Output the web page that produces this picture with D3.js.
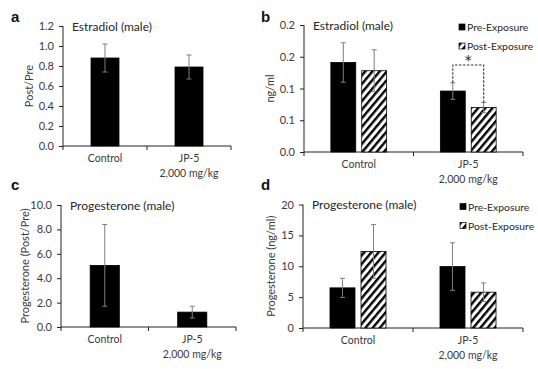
<!DOCTYPE html>
<html>
<head>
<meta charset="utf-8">
<script src="https://cdn.jsdelivr.net/npm/d3@7"></script>
<style>
  body { margin: 0; background: #fff; }
  svg { display: block; font-family: Lato, "Open Sans", sans-serif; }
</style>
</head>
<body>
<div id="content"></div>
<script>
// categories shared by all four panels
const categories = [["Control"], ["JP-5", "2,000 mg/kg"]];
const seriesNames = ["Pre-Exposure", "Post-Exposure"];

// a: estradiol ratio
const estRatio = [0.88, 0.79];
const estRatioErr = [0.14, 0.12];
const estRatioTicks = [0, 0.2, 0.4, 0.6, 0.8, 1.0, 1.2];

// b: estradiol ng/ml
const estPre = [0.141, 0.096];
const estPreErr = [0.031, 0.013];
const estPost = [0.128, 0.070];
const estPostErr = [0.033, 0.008];
const estTicks = [0, 0.05, 0.1, 0.15, 0.2];
const estTickLabels = ["0.0", "0.1", "0.1", "0.2", "0.2"];

// c: progesterone ratio
const progRatio = [5.05, 1.22];
const progRatioErr = [3.35, 0.48];
const progRatioTicks = [0, 2, 4, 6, 8, 10];

// d: progesterone ng/ml
const progPre = [6.5, 9.95];
const progPreErr = [1.55, 3.85];
const progPost = [12.4, 5.8];
const progPostErr = [4.35, 1.5];
const progTicks = [0, 5, 10, 15, 20];

const W = 538, H = 369;
const svg = d3
  .select("#content")
  .append("svg")
  .attr("width", W)
  .attr("height", H);

// hatch pattern for post-exposure bars
const defs = svg.append("defs");
const pat = defs
  .append("pattern")
  .attr("id", "hatch")
  .attr("patternUnits", "userSpaceOnUse")
  .attr("width", 5.5)
  .attr("height", 5.5)
  .attr("patternTransform", "rotate(40)");
pat.append("rect").attr("width", 5.5).attr("height", 5.5).attr("fill", "#fff");
pat
  .append("rect")
  .attr("x", 0)
  .attr("width", 2.4)
  .attr("height", 5.5)
  .attr("fill", "#000");

const textCol = "#3a3a3a";

function panel(opt) {
  const g = svg.append("g");
  const y = d3.scaleLinear().domain(opt.domain).range([opt.bottom, opt.top]);
  const x0 = d3
    .scaleBand()
    .domain(d3.range(categories.length))
    .range([opt.left, opt.right]);

  // y axis
  const yAxis = g
    .append("g")
    .attr("transform", `translate(${opt.left},0)`)
    .call(
      d3
        .axisLeft(y)
        .tickValues(opt.ticks)
        .tickSize(4)
        .tickPadding(5)
        .tickFormat((d, i) => (opt.tickLabels ? opt.tickLabels[i] : opt.fmt(d))),
    );
  yAxis.select(".domain").attr("stroke", "#222").attr("d", `M0,${opt.bottom}V${opt.top}`);
  yAxis.selectAll(".tick line").attr("stroke", "#222");
  yAxis
    .selectAll(".tick text")
    .attr("fill", textCol)
    .style("font-size", "11px");
  yAxis.attr("font-family", null);

  // x axis line with ticks at band edges
  const xa = g.append("g");
  xa.append("line")
    .attr("x1", opt.left)
    .attr("x2", opt.right)
    .attr("y1", opt.bottom)
    .attr("y2", opt.bottom)
    .attr("stroke", "#222");
  const edges = [opt.left, ...d3.range(1, categories.length).map((i) => x0(i)), opt.right];
  xa.selectAll(".xt")
    .data(edges)
    .enter()
    .append("line")
    .attr("x1", (d) => d)
    .attr("x2", (d) => d)
    .attr("y1", opt.bottom)
    .attr("y2", opt.bottom + 4)
    .attr("stroke", "#222");

  // category labels
  categories.forEach((lines, i) => {
    lines.forEach((t, j) => {
      g.append("text")
        .attr("x", x0(i) + x0.bandwidth() / 2)
        .attr("y", opt.bottom + 16 + j * 15)
        .attr("text-anchor", "middle")
        .attr("fill", textCol)
        .style("font-size", "10.5px")
        .text(t);
    });
  });

  // bars
  const x1 = d3
    .scaleBand()
    .domain(d3.range(opt.series.length))
    .range([0, x0.bandwidth()])
    .paddingInner(opt.series.length > 1 ? 0.194 : 0)
    .paddingOuter(opt.series.length > 1 ? 0.87 : 1);

  opt.series.forEach((s, si) => {
    const bars = s.values.map((v, i) => ({ v, e: s.err[i], i }));
    g.selectAll(null)
      .data(bars)
      .enter()
      .append("rect")
      .attr("x", (d) => x0(d.i) + x1(si))
      .attr("y", (d) => y(d.v))
      .attr("width", x1.bandwidth())
      .attr("height", (d) => y(0) - y(d.v))
      .attr("fill", s.fill)
      .attr("stroke", "#000")
      .attr("stroke-width", 0.8);

    const eb = g
      .selectAll(null)
      .data(bars)
      .enter()
      .append("g")
      .attr("stroke", "#7f7f7f")
      .attr("stroke-width", 1)
      .attr("transform", (d) => `translate(${x0(d.i) + x1(si) + x1.bandwidth() / 2},0)`);
    eb.append("line")
      .attr("y1", (d) => y(d.v + d.e))
      .attr("y2", (d) => y(d.v - d.e));
    eb.append("line")
      .attr("x1", -2.5)
      .attr("x2", 2.5)
      .attr("y1", (d) => y(d.v + d.e))
      .attr("y2", (d) => y(d.v + d.e));
    eb.append("line")
      .attr("x1", -2.5)
      .attr("x2", 2.5)
      .attr("y1", (d) => y(d.v - d.e))
      .attr("y2", (d) => y(d.v - d.e));
  });

  // title inside plot
  g.append("text")
    .attr("x", opt.left + 9)
    .attr("y", opt.top + 4.5)
    .attr("fill", "#262626")
    .style("font-size", "12px")
    .text(opt.title);

  // y label
  g.append("text")
    .attr("transform", `translate(${opt.ylabX},${(opt.top + opt.bottom) / 2}) rotate(-90)`)
    .attr("text-anchor", "middle")
    .attr("fill", textCol)
    .style("font-size", "11px")
    .text(opt.ylab);

  // panel letter
  g.append("text")
    .attr("x", opt.letterX)
    .attr("y", opt.letterY)
    .style("font-family", "'Liberation Sans', Arial, sans-serif")
    .style("font-weight", "bold")
    .style("font-size", "15px")
    .attr("fill", "#111")
    .text(opt.letter);

  // legend
  if (opt.series.length > 1) {
    opt.series.forEach((s, si) => {
      const ly = opt.top + 2 + si * 19;
      g.append("rect")
        .attr("x", opt.legendX)
        .attr("y", ly - 3)
        .attr("width", 6)
        .attr("height", 6)
        .attr("fill", s.fill)
        .attr("stroke", "#000")
        .attr("stroke-width", 0.7);
      g.append("text")
        .attr("x", opt.legendX + 8)
        .attr("y", ly + 4)
        .attr("fill", "#262626")
        .style("font-size", "10.4px")
        .text(seriesNames[si]);
    });
  }
  return { g, x0, x1, y };
}

panel({
  letter: "a", letterX: 11, letterY: 21.5,
  left: 63, right: 231, top: 26, bottom: 146,
  domain: [0, 1.2], ticks: estRatioTicks, fmt: d3.format(".1f"),
  title: "Estradiol (male)", ylab: "Post/Pre", ylabX: 33,
  series: [{ values: estRatio, err: estRatioErr, fill: "#000" }],
});

const pb = panel({
  letter: "b", letterX: 261, letterY: 21.5,
  left: 304, right: 523, top: 25, bottom: 152,
  domain: [0, 0.2], ticks: estTicks, tickLabels: estTickLabels,
  title: "Estradiol (male)", ylab: "ng/ml", ylabX: 274, legendX: 459,
  series: [
    { values: estPre, err: estPreErr, fill: "#000" },
    { values: estPost, err: estPostErr, fill: "url(#hatch)" },
  ],
});

// significance bracket between JP-5 pre and post
{
  const { g, x0, x1, y } = pb;
  const xa = x0(1) + x1(0) + x1.bandwidth() / 2;
  const xb = x0(1) + x1(1) + x1.bandwidth() / 2;
  const yTop = 65;
  const ya = y(estPre[1] + estPreErr[1]);
  const yb = y(estPost[1] + estPostErr[1]);
  g.append("path")
    .attr("d", `M${xa},${ya}V${yTop}H${xb}V${yb}`)
    .attr("fill", "none")
    .attr("stroke", "#333")
    .attr("stroke-width", 1.1)
    .attr("stroke-dasharray", "2.5,1.5");
  g.append("text")
    .attr("x", (xa + xb) / 2)
    .attr("y", yTop)
    .attr("text-anchor", "middle")
    .style("font-family", "'DejaVu Sans', sans-serif")
    .style("font-size", "14px")
    .attr("fill", "#222")
    .text("*");
}

panel({
  letter: "c", letterX: 11, letterY: 190,
  left: 61, right: 236, top: 205, bottom: 327,
  domain: [0, 10], ticks: progRatioTicks, fmt: d3.format(".1f"),
  title: "Progesterone (male)", ylab: "Progesterone (Post/Pre)", ylabX: 29,
  series: [{ values: progRatio, err: progRatioErr, fill: "#000" }],
});

panel({
  letter: "d", letterX: 261, letterY: 190,
  left: 303, right: 523, top: 204.5, bottom: 328,
  domain: [0, 20], ticks: progTicks, fmt: d3.format("d"),
  title: "Progesterone (male)", ylab: "Progesterone (ng/ml)", ylabX: 275, legendX: 460,
  series: [
    { values: progPre, err: progPreErr, fill: "#000" },
    { values: progPost, err: progPostErr, fill: "url(#hatch)" },
  ],
});
</script>
</body>
</html>
